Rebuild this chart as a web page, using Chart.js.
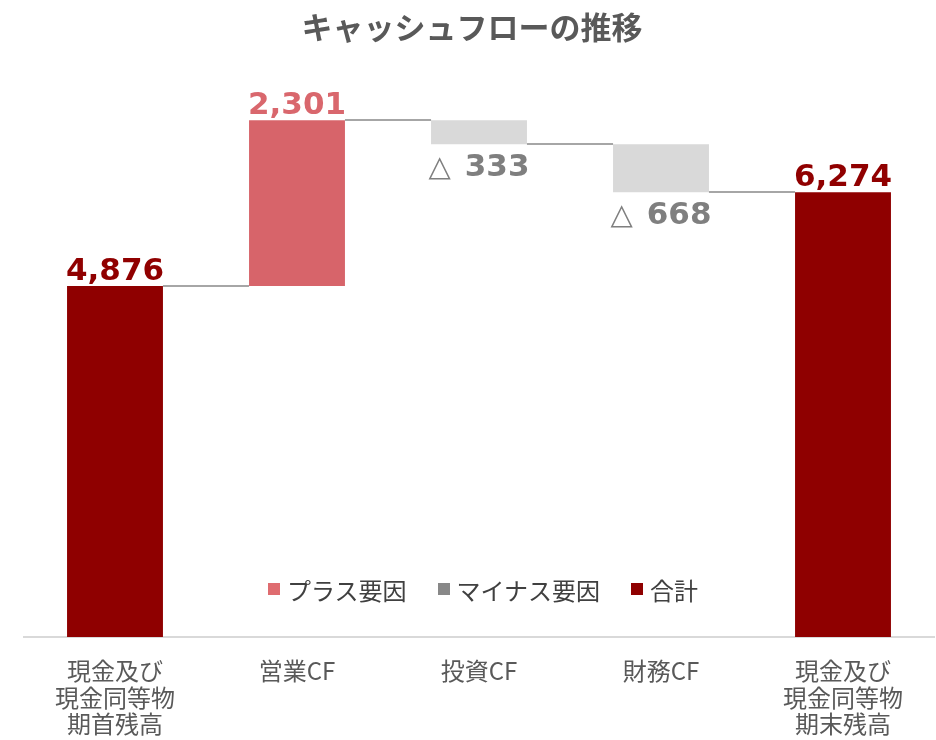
<!DOCTYPE html>
<html><head><meta charset="utf-8">
<script src="https://cdn.jsdelivr.net/npm/chart.js@4.4.1/dist/chart.umd.min.js"></script>
<style>
html,body{margin:0;padding:0;background:#fff;}
#wrap{position:relative;width:936px;height:740px;}
#legend{position:absolute;left:268px;top:574px;height:30px;display:flex;align-items:center;font-family:"Noto Sans CJK JP";font-size:24px;color:#404040;white-space:nowrap;}
.item{display:flex;align-items:center;margin-right:31px;}
.box{width:12px;height:12px;margin-right:7px;}
</style></head>
<body><div id="wrap"><canvas id="c" width="936" height="740"></canvas><div id="legend"></div></div>
<script>
// ---- data ----
const categories = [['現金及び','現金同等物','期首残高'], '営業CF', '投資CF', '財務CF', ['現金及び','現金同等物','期末残高']];
const openingBalance = 4876;
const cashFlowChanges = [2301, -333, -668];
const closingBalanceLabel = 6274;
const legendNames = ['プラス要因', 'マイナス要因', '合計'];
const chartTitle = 'キャッシュフローの推移';

// ---- styles ----
const COL_TOTAL = '#8f0000', COL_PLUS = '#d7646a', COL_MINUS = '#d9d9d9';
const LEG_COLORS = ['#df6c70', '#888888', '#8f0000'];
const LABEL_COLORS = {total:'#900000', plus:'#d9676d', minus:'#7f7f7f'};

// build waterfall ranges
const ranges = [], kinds = [], running = [];
let level = openingBalance;
ranges.push([0, level]); kinds.push('total'); running.push(level);
cashFlowChanges.forEach(v => {
  ranges.push([level, level + v]); kinds.push(v >= 0 ? 'plus' : 'minus');
  level += v; running.push(level);
});
ranges.push([0, level]); kinds.push('total');
const displayValues = [openingBalance, ...cashFlowChanges, closingBalanceLabel];
const colors = kinds.map(k => k === 'total' ? COL_TOTAL : (k === 'plus' ? COL_PLUS : COL_MINUS));

const fmt = n => Math.abs(n).toLocaleString('en-US');

const waterfallPlugin = {
  id: 'wf',
  afterDraw(chart) {
    const ctx = chart.ctx;
    ctx.save();
    ctx.font = 'bold 31px "Noto Sans CJK JP"';
    ctx.fillStyle = '#595959';
    ctx.textAlign = 'center';
    ctx.textBaseline = 'middle';
    ctx.fillText(chartTitle, 472, 27);
    ctx.restore();
  },
  afterDatasetsDraw(chart) {
    const ctx = chart.ctx, meta = chart.getDatasetMeta(0), y = chart.scales.y;
    ctx.save();
    ctx.strokeStyle = '#a6a6a6'; ctx.lineWidth = 2;
    for (let i = 0; i < meta.data.length - 1; i++) {
      const a = meta.data[i], b = meta.data[i + 1];
      const py = Math.round(y.getPixelForValue(running[i]));
      ctx.beginPath(); ctx.moveTo(a.x + a.width / 2, py); ctx.lineTo(b.x - b.width / 2, py); ctx.stroke();
    }
    ctx.textBaseline = 'alphabetic';
    meta.data.forEach((bar, i) => {
      const v = displayValues[i], k = kinds[i];
      const top = Math.min(bar.y, bar.base), bottom = Math.max(bar.y, bar.base);
      if (k !== 'minus') {
        ctx.font = 'bold 31px "DejaVu Sans"';
        ctx.fillStyle = LABEL_COLORS[k];
        ctx.textAlign = 'center';
        ctx.fillText(fmt(v), bar.x, top - 6);
      } else {
        const num = fmt(v);
        ctx.font = '29px "DejaVu Sans"';
        const wt = ctx.measureText('△').width;
        ctx.font = 'bold 31px "DejaVu Sans"';
        const wn = ctx.measureText(num).width;
        const gap = 14;
        let x0 = bar.x - (wt + gap + wn) / 2;
        const by = bottom + 32;
        ctx.textAlign = 'left';
        ctx.fillStyle = LABEL_COLORS.minus;
        ctx.font = '29px "DejaVu Sans"';
        ctx.fillText('△', x0, by);
        ctx.font = 'bold 31px "DejaVu Sans"';
        ctx.fillText(num, x0 + wt + gap, by);
      }
    });
    ctx.restore();
  }
};

new Chart(document.getElementById('c'), {
  type: 'bar',
  data: {
    labels: categories,
    datasets: [{ data: ranges, backgroundColor: colors, borderWidth: 0,
      categoryPercentage: 1, barPercentage: 0.527 }]
  },
  options: {
    responsive: false, devicePixelRatio: 1, animation: false,
    layout: { padding: { left: 24, right: 2, top: 61, bottom: 0 } },
    plugins: {
      legend: { display: false }, tooltip: { enabled: false }, title: { display: false }
    },
    scales: {
      x: {
        grid: { display: false, drawTicks: false },
        border: { display: true, color: '#d9d9d9', width: 2 },
        ticks: { color: '#595959', padding: 21, font: { family: '"Noto Sans CJK JP"', size: 24, lineHeight: 1.1 }, maxRotation: 0 },
        afterFit(s) { s.height = 103; }
      },
      y: { display: false, min: 0, max: 8000 }
    }
  },
  plugins: [waterfallPlugin]
});

// legend
const leg = document.getElementById('legend');
legendNames.forEach((n, i) => {
  const it = document.createElement('div'); it.className = 'item';
  const b = document.createElement('div'); b.className = 'box'; b.style.background = LEG_COLORS[i];
  const t = document.createElement('span'); t.textContent = n;
  it.appendChild(b); it.appendChild(t); leg.appendChild(it);
});
</script>
</body></html>
